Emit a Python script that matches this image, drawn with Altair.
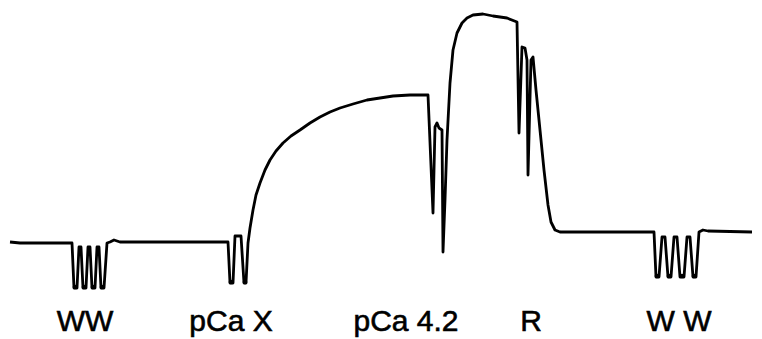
import altair as alt
import pandas as pd

# Tension trace (time in arbitrary units, tension in arbitrary units)
time_ww1 = [10, 20, 72, 74, 77, 79, 81, 83, 86, 88, 90, 92, 95, 97, 99, 101, 104, 107, 110, 114, 120, 228]
tens_ww1 = [97, 96, 96, 51, 51, 92, 92, 51, 51, 92, 92, 51, 51, 92, 92, 51, 51, 96, 97, 99, 97, 97]

time_pcax = [230, 233, 235, 241, 244, 246, 248, 250, 253, 256, 260, 265, 270, 276, 283, 291, 300,
             310, 320, 330, 340, 353, 367, 380, 393, 410, 427]
tens_pcax = [56, 56, 103, 103, 56, 56, 96, 111, 129, 144, 156, 169, 179, 188, 196, 203, 209,
             216, 222, 227, 231, 235, 239, 241, 243, 244, 244]

time_pca42 = [428, 433, 435, 437, 439, 442, 443, 445, 447, 450, 453, 457, 462, 467, 473, 483, 493, 507, 517]
tens_pca42 = [244, 126, 212, 216, 211, 209, 87, 139, 199, 256, 289, 306, 316, 321, 324, 325, 323, 321, 317]

time_r = [519, 522, 525, 527, 528, 531, 533, 536, 540, 544, 548, 551, 555, 560, 632]
tens_r = [206, 292, 291, 279, 164, 279, 282, 249, 209, 169, 134, 117, 109, 107, 107]

time_ww2 = [654, 656, 659, 662, 665, 668, 671, 674, 677, 680, 684, 687, 690, 693, 696, 699, 703, 708, 752]
tens_ww2 = [107, 62, 62, 102, 102, 62, 62, 102, 102, 62, 62, 102, 102, 62, 62, 107, 109, 108, 107]

# pen dots at the bottom of the wash dips
dot_time = [75, 84, 93, 102, 231, 245, 657, 669, 682, 694]
dot_tens = [52, 52, 52, 52, 57, 57, 63, 63, 63, 63]

labels = ["WW", "pCa X", "pCa 4.2", "R", "W W"]
label_time = [85, 231, 406, 531, 679]
label_tens = [8, 8, 8, 8, 8]

times = time_ww1 + time_pcax + time_pca42 + time_r + time_ww2
tens = tens_ww1 + tens_pcax + tens_pca42 + tens_r + tens_ww2
trace = pd.DataFrame({"t": times, "f": tens, "i": list(range(len(times)))})
dots = pd.DataFrame({"t": dot_time, "f": dot_tens})
lab = pd.DataFrame({"t": label_time, "f": label_tens, "label": labels})

xs = alt.Scale(domain=[0, 762], nice=False, zero=False)
ys = alt.Scale(domain=[0, 339], nice=False, zero=False)

line = alt.Chart(trace).mark_line(color="black", strokeWidth=2.8, strokeJoin="round").encode(
    x=alt.X("t:Q", scale=xs, axis=None),
    y=alt.Y("f:Q", scale=ys, axis=None),
    order="i:Q",
)

pts = alt.Chart(dots).mark_circle(color="black", size=22, opacity=1).encode(
    x=alt.X("t:Q", scale=xs, axis=None),
    y=alt.Y("f:Q", scale=ys, axis=None),
)

text = alt.Chart(lab).mark_text(font="Liberation Sans", fontSize=30, color="black",
                                stroke="black", strokeWidth=0.6,
                                baseline="alphabetic", align="center").encode(
    x=alt.X("t:Q", scale=xs, axis=None),
    y=alt.Y("f:Q", scale=ys, axis=None),
    text="label:N",
)

chart = (line + pts + text).properties(width=762, height=339, padding=0, autosize="none",
                                       background="white").configure_view(stroke=None)

chart.save("out.html", embed_options={"renderer": "svg", "actions": False})
